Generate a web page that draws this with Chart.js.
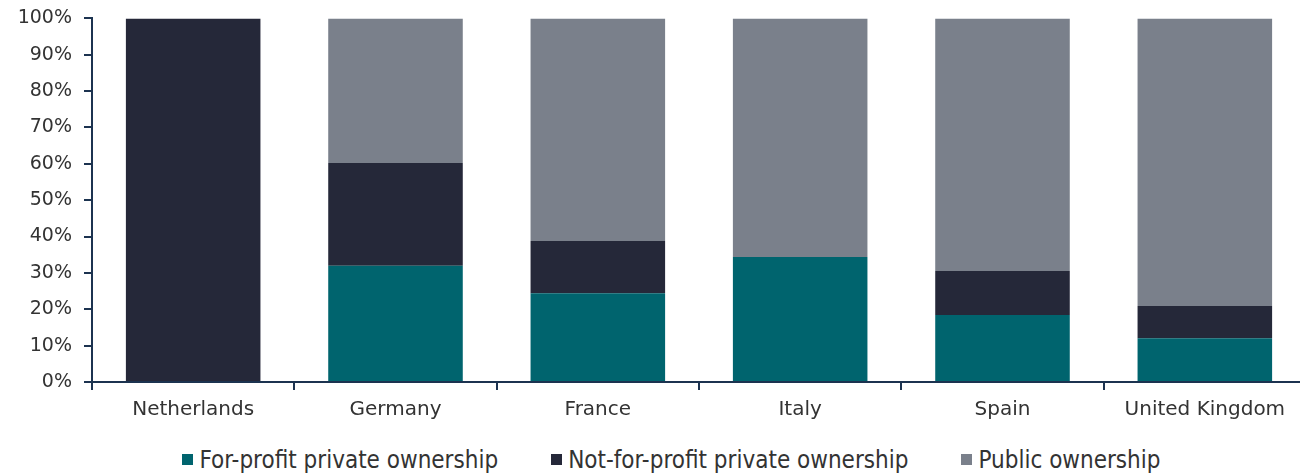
<!DOCTYPE html>
<html>
<head>
<meta charset="utf-8">
<script src="https://cdn.jsdelivr.net/npm/chart.js@4"></script>
<style>
  html, body { margin: 0; padding: 0; background: #fff; overflow: hidden; }
  #wrap { width: 1306px; height: 435px; margin-top: -5px; }
  #legenda {
    width: 1300px; height: 43px; box-sizing: border-box; padding: 16px 0 0 43px;
    display: flex; justify-content: center; align-items: center; gap: 53px;
    font-family: 'Liberation Sans Narrow', 'DejaVu Sans Condensed', sans-serif;
    font-size: 24px; line-height: 24px; color: #333;
  }
  #legenda .item { display: flex; align-items: center; white-space: nowrap; }
  #legenda .caixa { width: 11px; height: 11px; margin-right: 6px; }
</style>
</head>
<body>
<div id="wrap"><canvas id="ownershipChart"></canvas></div>
<div id="legenda"></div>
<script>
// Paises e parcelas de propriedade (%)
const paises = ["Netherlands", "Germany", "France", "Italy", "Spain", "United Kingdom"];
const comFins = [0, 32, 24.4, 34.4, 18.4, 12];
const semFins = [100, 28.2, 14.4, 0, 12.1, 8.9];
const publico = [0, 39.8, 61.2, 65.6, 69.5, 79.1];
const ticksY = [0, 10, 20, 30, 40, 50, 60, 70, 80, 90, 100];

const corTeal = "#00646e";
const corEscura = "#252839";
const corCinza = "#7a808b";
const corEixo = "#1c3350";
const corTexto = "#333333";

// Legenda em HTML, montada a partir dos itens do próprio Chart.js
const legendaHtml = {
  id: "legendaHtml",
  afterUpdate(chart) {
    const alvo = document.getElementById("legenda");
    alvo.innerHTML = "";
    const itens = chart.options.plugins.legend.labels.generateLabels(chart);
    itens.forEach((item) => {
      const el = document.createElement("div");
      el.className = "item";
      const caixa = document.createElement("span");
      caixa.className = "caixa";
      caixa.style.background = item.fillStyle;
      const texto = document.createElement("span");
      texto.textContent = item.text;
      el.appendChild(caixa);
      el.appendChild(texto);
      alvo.appendChild(el);
    });
  }
};

const ctx = document.getElementById("ownershipChart").getContext("2d");
new Chart(ctx, {
  type: "bar",
  data: {
    labels: paises,
    datasets: [
      { label: "For-profit private ownership", data: comFins, backgroundColor: corTeal },
      { label: "Not-for-profit private ownership", data: semFins, backgroundColor: corEscura },
      { label: "Public ownership", data: publico, backgroundColor: corCinza }
    ]
  },
  plugins: [legendaHtml],
  options: {
    responsive: true,
    maintainAspectRatio: false,
    animation: false,
    datasets: { bar: { categoryPercentage: 1, barPercentage: 0.665 } },
    layout: { padding: { top: 10, right: 0, left: 0, bottom: 0 } },
    plugins: {
      tooltip: { enabled: false },
      legend: { display: false }
    },
    scales: {
      x: {
        stacked: true,
        grid: { display: true, drawOnChartArea: false, offset: true, color: corEixo, lineWidth: 2, tickLength: 8 },
        border: { color: corEixo, width: 2 },
        ticks: { color: corTexto, font: { family: "DejaVu Sans", size: 20 }, padding: 8 }
      },
      y: {
        stacked: true,
        min: 0,
        max: 100,
        afterFit: (scale) => { scale.width = 92; },
        afterBuildTicks: (axis) => { axis.ticks = ticksY.map(v => ({ value: v })); },
        grid: { display: true, drawOnChartArea: false, color: corEixo, lineWidth: 2, tickLength: 8 },
        border: { color: corEixo, width: 2 },
        ticks: { color: corTexto, font: { family: "DejaVu Sans", size: 19 }, padding: 12, callback: (v) => v + "%" }
      }
    }
  }
});
</script>
</body>
</html>
